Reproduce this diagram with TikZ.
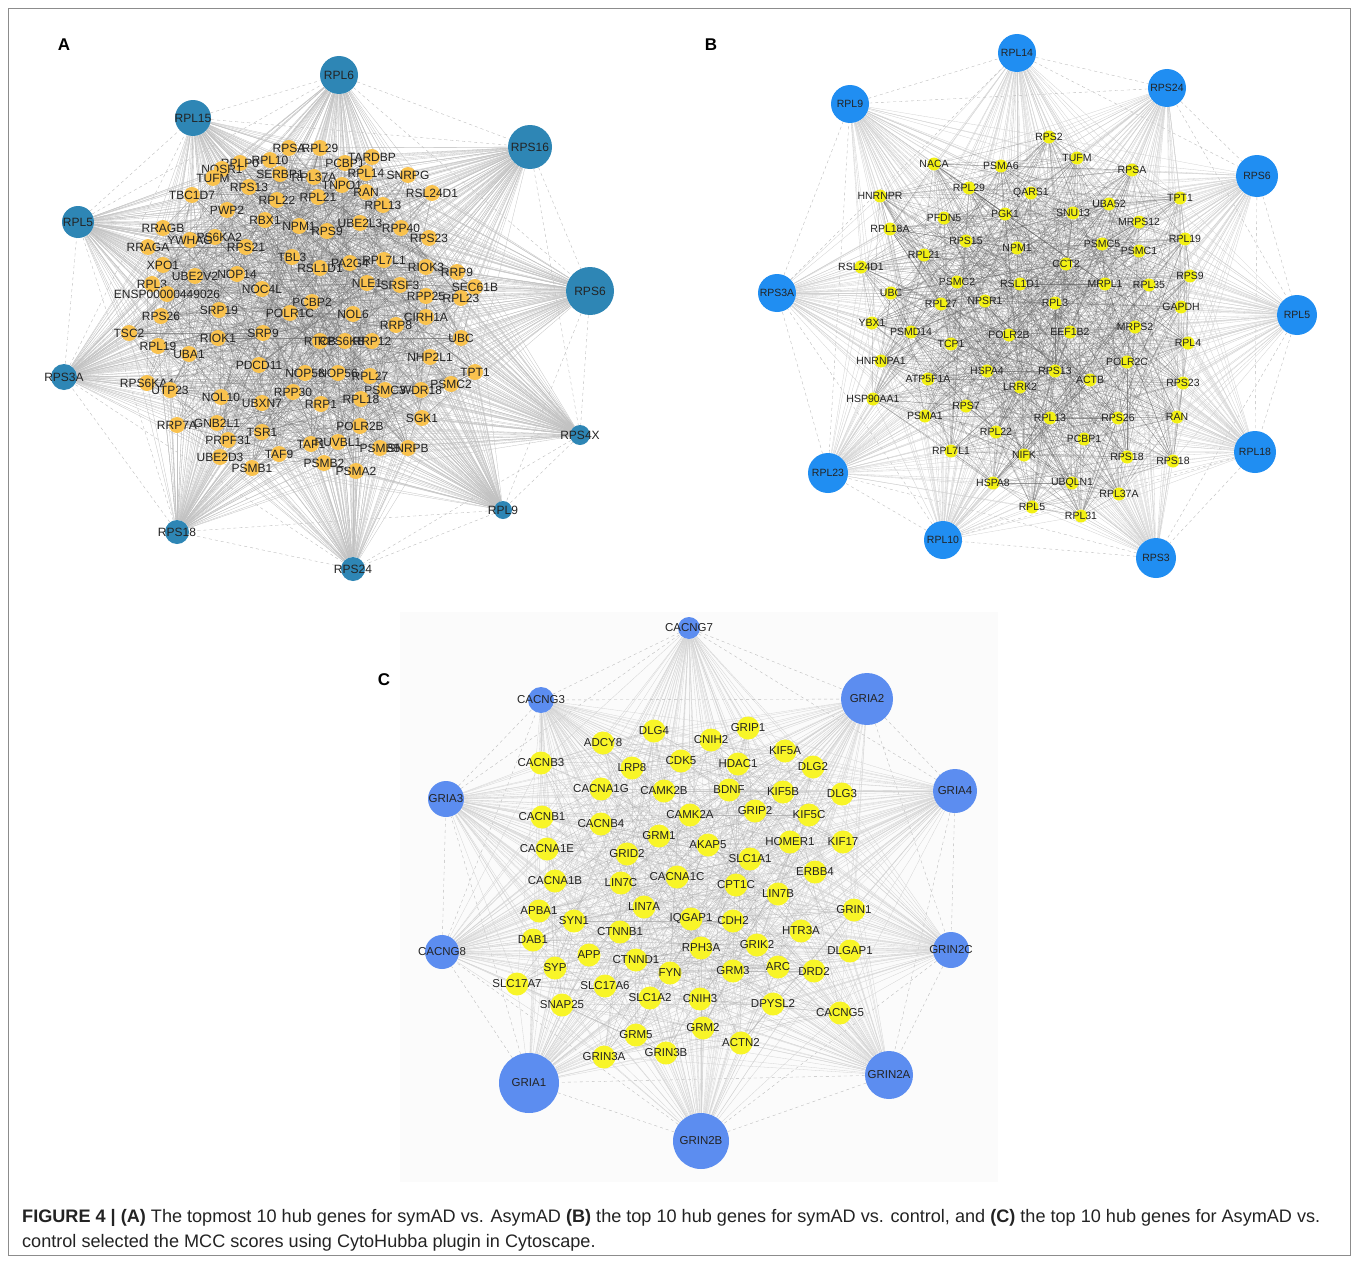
\documentclass[tikz,border=0pt]{standalone}
\usepackage{fontspec}
\setmainfont{Liberation Sans}
\definecolor{hubA}{RGB}{46,134,181}
\definecolor{smA}{RGB}{249,194,78}
\definecolor{hubB}{RGB}{32,142,242}
\definecolor{smB}{RGB}{242,240,20}
\definecolor{hubC}{RGB}{92,141,240}
\definecolor{smC}{RGB}{248,245,40}
\definecolor{txt}{RGB}{35,35,35}
\definecolor{panelC}{RGB}{251,251,251}
\pgfdeclarelayer{bg}
\pgfdeclarelayer{edges}
\pgfsetlayers{bg,edges,main}
\newcommand\netedges[5]{%
  \foreach \h in {1,...,10} {
    \foreach \s in {1,...,#2} { \draw[#4] (#1h\h) -- (#1\s); }
    \pgfmathtruncatemacro\j{mod(\h,10)+1}
    \pgfmathtruncatemacro\k{mod(\h+1,10)+1}
    \draw[hh] (#1h\h) -- (#1h\j);
    \draw[hh] (#1h\h) -- (#1h\k);
  }
  \foreach \i in {1,...,#2} {
    \foreach \o in {#3} {
      \pgfmathtruncatemacro\j{mod(\i+\o-1,#2)+1}
      \draw[#5] (#1\i) -- (#1\j);
    }
  }}
\begin{document}
\begin{tikzpicture}[x=1pt,y=-1pt,
  dot/.style={circle,inner sep=0pt,draw=none},
  labA/.style={font=\fontsize{12}{12}\selectfont,text=txt,inner sep=0pt},
  labB/.style={font=\fontsize{10.5}{10.5}\selectfont,text=txt,inner sep=0pt},
  labC/.style={font=\fontsize{11.5}{11.5}\selectfont,text=txt,inner sep=0pt},
  hedgeA/.style={draw=black!24,line width=0.3pt},
  meshA/.style={draw=black!55,line width=0.25pt,opacity=0.7},
  hedgeB/.style={draw=black!18,line width=0.3pt},
  meshB/.style={draw=black!60,line width=0.22pt,opacity=0.65},
  hedgeC/.style={draw=black!17,line width=0.3pt},
  meshC/.style={draw=black!35,line width=0.25pt,opacity=0.7},
  hh/.style={draw=black!28,line width=0.35pt,dashed},
  panellabel/.style={font=\bfseries\fontsize{17}{17}\selectfont,text=black},
  caption/.style={anchor=west,font=\fontsize{18.1}{20}\selectfont,text=txt,inner sep=0pt}
]
\useasboundingbox (0,0) rectangle (1358,1263);
\begin{pgfonlayer}{bg}
\fill[white] (0,0) rectangle (1358,1263);
\draw[black!45,line width=0.8pt] (8,8) rectangle (1350,1255);
\fill[panelC] (400,612) rectangle (998,1182);
\end{pgfonlayer}

% ---------------- Panel A ----------------
\node[panellabel] (LA) at (64,45) {A};
\foreach \n/\x/\y/\r/\t in {ah1/339/75/19/RPL6, ah2/530/147/22/RPS16, ah3/590/291/24/RPS6,
  ah4/580/435/10/RPS4X, ah5/503/510/9/RPL9, ah6/353/569/12/RPS24, ah7/177/532/12/RPS18,
  ah8/64/377/13/RPS3A, ah9/78/222/16/RPL5, ah10/193/118/18/RPL15}
  \node[dot,fill=hubA,minimum size=2*\r,label={[labA]center:\t}] (\n) at (\x,\y) {};
\foreach \x/\y/\t [count=\i] in {289/148/RPSA, 320/148/RPL29, 240/163/RPLP0, 270/160/RPL10,
  222/169/NOSR1, 213/178/TUFM, 280/174/SERBP1, 314/177/RPL37A, 345/163/PCBP1, 372/157/TARDBP,
  366/173/RPL14, 408/175/SNRPG, 342/185/TNPO1, 249/187/RPS13, 277/200/RPL22, 318/197/RPL21,
  366/192/RAN, 383/205/RPL13, 432/193/RSL24D1, 192/195/TBC1D7, 227/210/PWP2, 265/220/RBX1,
  299/226/NPM1, 327/231/RPS9, 360/223/UBE2L3, 401/228/RPP40, 429/238/RPS23, 163/228/RRAGB,
  215/237/RPS6KA2, 190/240/YWHAG, 148/247/RRAGA, 246/247/RPS21, 292/257/TBL3, 320/268/RSL1D1,
  350/263/PA2G4, 384/260/RPL7L1, 426/267/RIOK3, 457/272/RRP9, 163/265/XPO1, 195/276/UBE2V2,
  237/274/NOP14, 262/289/NOC4L, 152/284/RPL3, 167/294/ENSP00000449026, 367/283/NLE1,
  400/285/SRSF3, 475/287/SEC61B, 426/296/RPP25, 461/298/RPL23, 312/302/PCBP2, 161/316/RPS26,
  219/310/SRP19, 290/313/POLR1C, 353/314/NOL6, 426/317/CIRH1A, 396/325/RRP8, 129/333/TSC2,
  263/333/SRP9, 218/338/RIOK1, 158/346/RPL19, 189/354/UBA1, 320/341/RTCB, 345/341/RPS6KB1,
  372/341/RRP12, 430/357/NHP2L1, 461/338/UBC, 259/365/PDCD11, 305/373/NOP58, 338/373/NOP56,
  370/376/RPL27, 147/383/RPS6KA4, 170/390/UTP23, 221/397/NOL10, 262/403/UBXN7, 293/392/RPP30,
  385/390/PSMC3, 421/390/WDR18, 451/384/PSMC2, 475/372/TPT1, 321/404/RRP1, 361/399/RPL18,
  422/418/SGK1, 177/425/RRP7A, 217/423/GNB2L1, 228/440/PRPF31, 262/432/TSR1, 360/426/POLR2B,
  220/457/UBE2D3, 279/454/TAF9, 252/468/PSMB1, 311/444/TAF1, 338/442/RUVBL1, 380/448/PSMB5,
  408/448/SNRPB, 324/463/PSMB2, 356/471/PSMA2}
  {\node[dot,fill=smA,minimum size=16,label={[labA]center:\t}] (a\i) at (\x,\y) {};
   \xdef\NA{\i}}

% ---------------- Panel B ----------------
\node[panellabel] (LB) at (711,45) {B};
\foreach \n/\x/\y/\r/\t in {bh1/1017/53/19/RPL14, bh2/1167/88/19/RPS24, bh3/1257/176/21/RPS6,
  bh4/1297/315/20/RPL5, bh5/1255/452/21/RPL18, bh6/1156/558/20/RPS3, bh7/943/540/19/RPL10,
  bh8/828/473/20/RPL23, bh9/777/293/19/RPS3A, bh10/850/104/19/RPL9}
  \node[dot,fill=hubB,minimum size=2*\r,label={[labB]center:\t}] (\n) at (\x,\y) {};
\foreach \x/\y/\t [count=\i] in {1049/137/RPS2, 1077/158/TUFM, 934/164/NACA, 1001/166/PSMA6,
  1132/170/RPSA, 880/196/HNRNPR, 969/188/RPL29, 1031/193/QARS1, 1180/198/TPT1, 1109/204/UBA52,
  1073/213/SNU13, 944/218/PFDN5, 1005/214/PGK1, 1139/222/MRPS12, 890/229/RPL18A, 966/241/RPS15,
  1017/248/NPM1, 1102/244/PSMC5, 1139/251/PSMC1, 1185/239/RPL19, 924/255/RPL21, 861/267/RSL24D1,
  1066/264/CCT2, 1190/276/RPS9, 957/282/PSMC2, 1020/284/RSL1D1, 1105/284/MRPL1, 1149/285/RPL35,
  891/293/UBC, 941/304/RPL27, 985/301/NPSR1, 1055/303/RPL3, 1181/307/GAPDH, 872/323/YBX1,
  911/332/PSMD14, 951/344/TCP1, 1009/335/POLR2B, 1070/332/EEF1B2, 1135/327/MRPS2, 1188/343/RPL4,
  881/361/HNRNPA1, 928/379/ATP5F1A, 987/371/HSPA4, 1055/371/RPS13, 1020/387/LRRK2, 1090/380/ACTB,
  1127/362/POLR2C, 1183/383/RPS23, 873/399/HSP90AA1, 966/406/RPS7, 925/416/PSMA1, 1050/418/RPL13,
  1118/418/RPS26, 1177/417/RAN, 996/432/RPL22, 1084/439/PCBP1, 951/451/RPL7L1, 1024/455/NIFK,
  1127/457/RPS18, 1173/461/RPS18, 993/483/HSPA8, 1072/483/UBQLN1, 1119/494/RPL37A, 1032/507/RPL5,
  1081/516/RPL31}
  {\node[dot,fill=smB,minimum size=13,label={[labB]center:\t}] (b\i) at (\x,\y) {};
   \xdef\NB{\i}}

% ---------------- Panel C ----------------
\node[panellabel] (LC) at (384,680) {C};
\foreach \n/\x/\y/\r/\t in {ch1/689/628/11/CACNG7, ch2/867/699/26/GRIA2, ch3/955/791/22/GRIA4,
  ch4/951/950/18/GRIN2C, ch5/889/1075/24/GRIN2A, ch6/701/1141/28/GRIN2B, ch7/529/1083/30/GRIA1,
  ch8/442/952/17/CACNG8, ch9/446/799/18/GRIA3, ch10/541/700/13/CACNG3}
  \node[dot,fill=hubC,minimum size=2*\r,label={[labC]center:\t}] (\n) at (\x,\y) {};
\foreach \x/\y/\t [count=\i] in {654/731/DLG4, 748/728/GRIP1, 603/743/ADCY8, 711/740/CNIH2,
  785/751/KIF5A, 541/763/CACNB3, 632/768/LRP8, 681/761/CDK5, 738/764/HDAC1, 813/767/DLG2,
  601/789/CACNA1G, 664/791/CAMK2B, 729/790/BDNF, 783/792/KIF5B, 842/794/DLG3, 542/817/CACNB1,
  601/824/CACNB4, 690/815/CAMK2A, 755/811/GRIP2, 809/815/KIF5C, 659/836/GRM1, 708/845/AKAP5,
  790/842/HOMER1, 843/842/KIF17, 547/849/CACNA1E, 627/854/GRID2, 750/859/SLC1A1, 555/881/CACNA1B,
  621/883/LIN7C, 677/877/CACNA1C, 736/885/CPT1C, 815/872/ERBB4, 778/894/LIN7B, 644/907/LIN7A,
  539/911/APBA1, 574/921/SYN1, 691/919/IQGAP1, 733/921/CDH2, 854/910/GRIN1, 620/932/CTNNB1,
  533/940/DAB1, 701/948/RPH3A, 757/945/GRIK2, 801/931/HTR3A, 850/951/DLGAP1, 589/955/APP,
  636/960/CTNND1, 555/968/SYP, 670/973/FYN, 733/971/GRM3, 778/967/ARC, 814/971/DRD2,
  517/984/SLC17A7, 605/986/SLC17A6, 650/998/SLC1A2, 700/999/CNIH3, 773/1004/DPYSL2,
  840/1013/CACNG5, 562/1005/SNAP25, 636/1035/GRM5, 703/1028/GRM2, 741/1043/ACTN2,
  604/1057/GRIN3A, 666/1053/GRIN3B}
  {\node[dot,fill=smC,minimum size=23,label={[labC]center:\t}] (c\i) at (\x,\y) {};
   \xdef\NC{\i}}

% ---------------- Edges ----------------
\begin{pgfonlayer}{edges}
\netedges{a}{\NA}{1,3,7,13,22,31,40}{hedgeA}{meshA}
\netedges{b}{\NB}{1,2,4,6,9,12,15,20,24,28,33}{hedgeB}{meshB}
\netedges{c}{\NC}{2,5,11,23}{hedgeC}{meshC}
\end{pgfonlayer}

% ---------------- Caption ----------------
\node[caption] (cap1) at (22,1218) {\textbf{FIGURE 4 | (A)} The topmost 10 hub genes for symAD vs. AsymAD \textbf{(B)} the top 10 hub genes for symAD vs. control, and \textbf{(C)} the top 10 hub genes for AsymAD vs.};
\node[caption] (cap2) at (22,1243) {control selected the MCC scores using CytoHubba plugin in Cytoscape.};
\end{tikzpicture}
\end{document}
